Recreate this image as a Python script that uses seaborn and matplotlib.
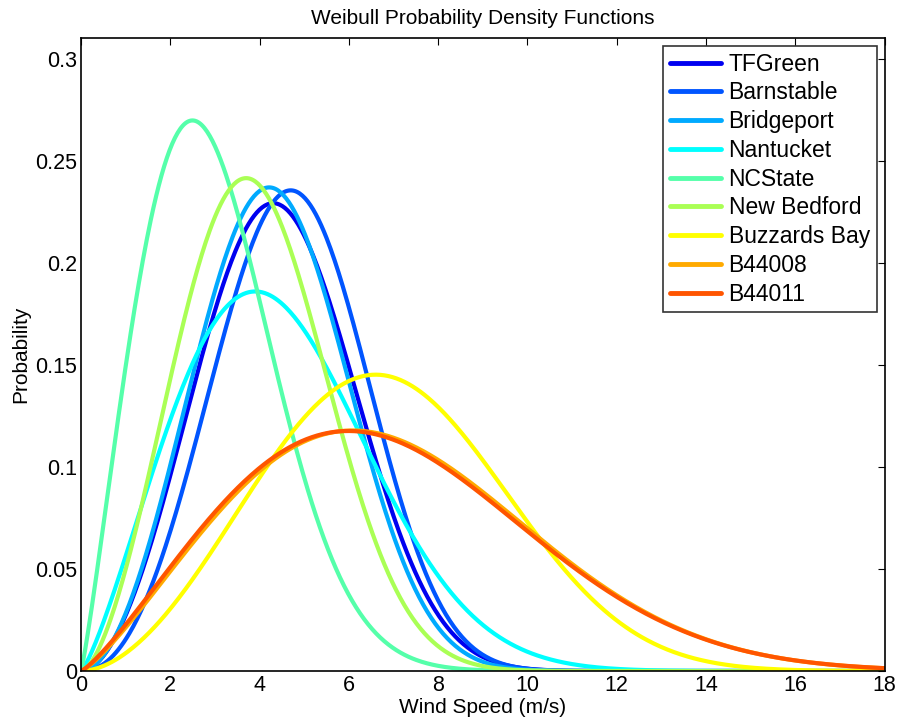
import numpy as np
import pandas as pd
import seaborn as sns
import matplotlib
matplotlib.use("Agg")
import matplotlib.pyplot as plt

stations = ["TFGreen", "Barnstable", "Bridgeport", "Nantucket", "NCState",
            "New Bedford", "Buzzards Bay", "B44008", "B44011"]
shape_k = [2.90, 3.20, 2.93, 2.27, 2.15, 2.67, 2.83, 2.25, 2.22]
scale_c = [4.98, 5.28, 4.86, 5.04, 3.34, 4.41, 7.70, 7.90, 7.84]
colors = ["#0000f0", "#0055ff", "#00aaff", "#00ffff", "#55ffaa",
          "#aaff55", "#ffff00", "#ffaa00", "#ff5500"]

x_ticks = [0, 2, 4, 6, 8, 10, 12, 14, 16, 18]
y_ticks = [0, 0.05, 0.1, 0.15, 0.2, 0.25, 0.3]

ws = np.linspace(0, 18, 600)
frames = []
for name, k, c in zip(stations, shape_k, scale_c):
    pdf = (k / c) * (ws / c) ** (k - 1) * np.exp(-(ws / c) ** k)
    frames.append(pd.DataFrame({"speed": ws, "prob": pdf, "station": name}))
df = pd.concat(frames, ignore_index=True)

sns.set_style("white")
plt.rcParams['font.family'] = ['Liberation Sans', 'DejaVu Sans']
plt.rcParams['text.color'] = 'black'
plt.rcParams['axes.labelcolor'] = 'black'

fig = plt.figure(figsize=(9, 7.27), dpi=100)
ax = fig.add_axes([0.09, 0.077, 0.893, 0.871])

sns.lineplot(data=df, x="speed", y="prob", hue="station", hue_order=stations,
             palette=colors, linewidth=3, ax=ax, sort=False)

ax.set_xlim(0, 18)
ax.set_ylim(0, 0.3103)
ax.set_xticks(x_ticks)
ax.set_xticklabels([str(t) for t in x_ticks])
ax.set_yticks(y_ticks)
ax.set_yticklabels(["0", "0.05", "0.1", "0.15", "0.2", "0.25", "0.3"])
ax.tick_params(direction="in", length=5, width=0.8, top=True, right=True,
               labelsize=15.5, pad=3, colors="black")
for s in ax.spines.values():
    s.set_color("black")
    s.set_linewidth(1.2)

ax.set_xlabel("Wind Speed (m/s)", fontsize=15, labelpad=1, color="black")
ax.set_ylabel("Probability", fontsize=15, labelpad=3, color="black")
ax.set_title("Weibull Probability Density Functions", fontsize=15, pad=10,
             color="black")

leg = ax.legend(loc="upper right", fontsize=16.5, frameon=True, fancybox=False,
                edgecolor="black", handlelength=2.2, handletextpad=0.35,
                labelspacing=0.25, borderaxespad=0.35, borderpad=0.3)
leg.get_frame().set_linewidth(1.2)
for line in leg.get_lines():
    line.set_linewidth(3.5)
for t in leg.get_texts():
    t.set_color("black")

fig.savefig("out.png", dpi=100)
